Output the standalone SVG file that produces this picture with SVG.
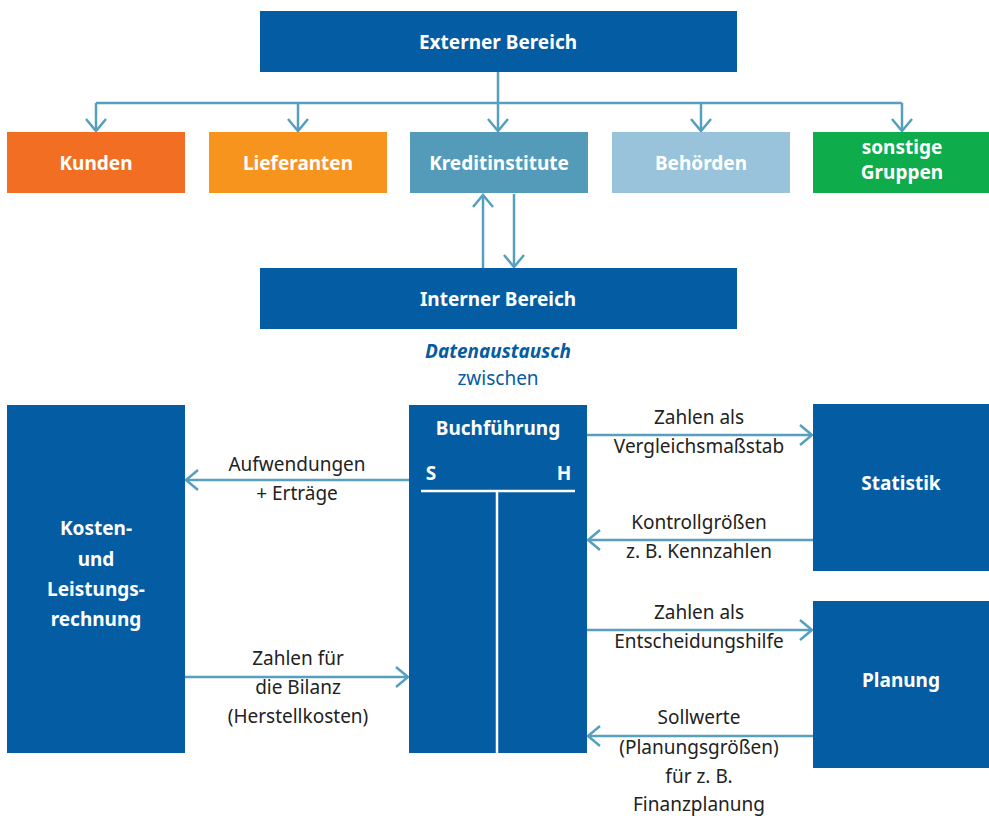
<svg xmlns="http://www.w3.org/2000/svg" width="989" height="816" viewBox="0 0 989 816">
<style>
.box{fill:#045ca3}
.wt{fill:#fff;font-family:"Noto Sans","Open Sans",sans-serif;font-weight:bold;font-size:19px;text-anchor:middle}
.lb{fill:#222;font-family:"Noto Sans","Open Sans",sans-serif;font-size:19px;text-anchor:middle}
.con{fill:none;stroke:#569fbf;stroke-width:2.5}
.arr{marker-end:url(#ah)}
</style>
<defs>
<marker id="ah" markerUnits="userSpaceOnUse" markerWidth="30" markerHeight="30" viewBox="-15 -15 30 30" refX="0" refY="0" orient="auto" overflow="visible">
<path d="M-12,-10 L0,0 L-12,10" fill="none" stroke="#569fbf" stroke-width="2.5"/>
</marker>
</defs>

<g id="connectors">
<path class="con" d="M498,72 V103 M96,103 H902"/>
<path class="con arr" d="M498,103 V131"/>
<path class="con arr" d="M96,103 V131"/>
<path class="con arr" d="M298,103 V131"/>
<path class="con arr" d="M701,103 V131"/>
<path class="con arr" d="M902,103 V131"/>
<path class="con arr" d="M483,268 V195"/>
<path class="con arr" d="M514,194 V267"/>
<path class="con arr" d="M409,480 H186"/>
<path class="con arr" d="M185,677 H408"/>
<path class="con arr" d="M587,435 H812"/>
<path class="con arr" d="M813,540 H588"/>
<path class="con arr" d="M587,630 H812"/>
<path class="con arr" d="M813,736 H588"/>
</g>

<g id="externer">
<rect class="box" x="260" y="11" width="477" height="61"/>
<text class="wt" x="498" y="49">Externer Bereich</text>
</g>
<g id="kunden">
<rect x="7" y="132" width="178" height="61" fill="#f26e22"/>
<text class="wt" x="96" y="170">Kunden</text>
</g>
<g id="lieferanten">
<rect x="209" y="132" width="178" height="61" fill="#f7941e"/>
<text class="wt" x="298" y="170">Lieferanten</text>
</g>
<g id="kreditinstitute">
<rect x="410" y="132" width="178" height="61" fill="#539bb9"/>
<text class="wt" x="499" y="170">Kreditinstitute</text>
</g>
<g id="behoerden">
<rect x="612" y="132" width="178" height="61" fill="#98c3da"/>
<text class="wt" x="701" y="170">Behörden</text>
</g>
<g id="sonstige">
<rect x="813" y="132" width="176" height="61" fill="#0eac4b"/>
<text class="wt" x="902" y="154">sonstige</text>
<text class="wt" x="902" y="179">Gruppen</text>
</g>
<g id="interner">
<rect class="box" x="260" y="268" width="477" height="61"/>
<text class="wt" x="498" y="306">Interner Bereich</text>
</g>
<g id="datenaustausch">
<text x="498" y="358" font-family="Noto Sans, Open Sans, sans-serif" font-size="19" font-weight="bold" font-style="italic" fill="#045ca3" text-anchor="middle">Datenaustausch</text>
<text x="498" y="385" font-family="Noto Sans, Open Sans, sans-serif" font-size="19" fill="#045ca3" text-anchor="middle">zwischen</text>
</g>
<g id="kosten">
<rect class="box" x="7" y="405" width="178" height="348"/>
<text class="wt" x="96" y="535">Kosten-</text>
<text class="wt" x="96" y="566">und</text>
<text class="wt" x="96" y="596">Leistungs-</text>
<text class="wt" x="96" y="626">rechnung</text>
</g>
<g id="buchfuehrung">
<rect class="box" x="409" y="405" width="178" height="348"/>
<text class="wt" x="498" y="435">Buchführung</text>
<text class="wt" x="431" y="480">S</text>
<text class="wt" x="564" y="480">H</text>
<path d="M421,491 H575 M497,491 V753" stroke="#fff" stroke-width="2.5" fill="none"/>
</g>
<g id="statistik">
<rect class="box" x="813" y="404" width="176" height="167"/>
<text class="wt" x="901" y="490">Statistik</text>
</g>
<g id="planung">
<rect class="box" x="813" y="601" width="176" height="167"/>
<text class="wt" x="901" y="687">Planung</text>
</g>

<g id="labels">
<text class="lb" x="297" y="471">Aufwendungen</text>
<text class="lb" x="297" y="500">+ Erträge</text>
<text class="lb" x="298" y="665">Zahlen für</text>
<text class="lb" x="298" y="694">die Bilanz</text>
<text class="lb" x="298" y="723">(Herstellkosten)</text>
<text class="lb" x="699" y="424">Zahlen als</text>
<text class="lb" x="699" y="453">Vergleichsmaßstab</text>
<text class="lb" x="699" y="529">Kontrollgrößen</text>
<text class="lb" x="699" y="558">z. B. Kennzahlen</text>
<text class="lb" x="699" y="619">Zahlen als</text>
<text class="lb" x="699" y="648">Entscheidungshilfe</text>
<text class="lb" x="699" y="724">Sollwerte</text>
<text class="lb" x="699" y="754">(Planungsgrößen)</text>
<text class="lb" x="699" y="783">für z. B.</text>
<text class="lb" x="699" y="811">Finanzplanung</text>
</g>
</svg>
